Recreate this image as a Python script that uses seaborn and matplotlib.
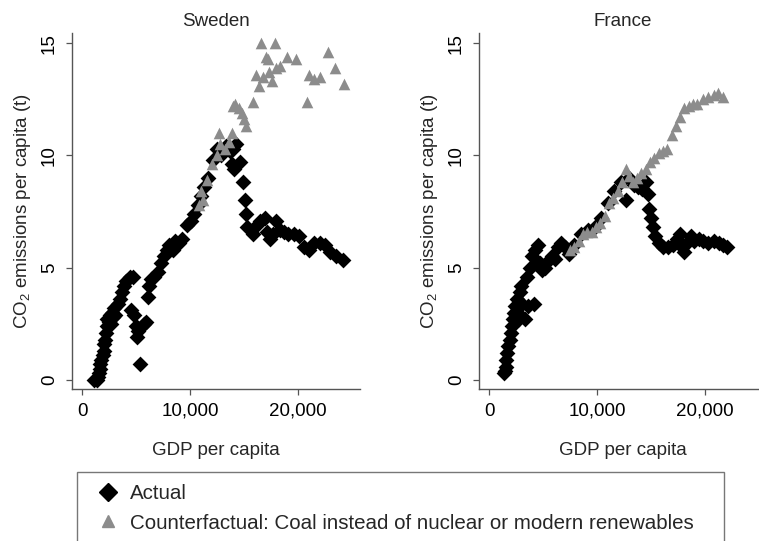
import pandas as pd
import numpy as np
import seaborn as sns
import matplotlib.pyplot as plt
from matplotlib.lines import Line2D

# Sweden, actual (GDP per capita, CO2 t per capita)
swe_act_gdp = [1100, 1250, 1350, 1450, 1550, 1650, 1700, 1800, 1900, 2000, 2050, 2150, 2200, 2300,
               2350, 2500, 2600, 2700, 2800, 2900, 3000, 3100, 3300, 3500, 3700, 3900, 4100, 4400,
               4700, 4500, 4800, 5000, 5200, 5400, 5100, 5700, 5900, 6100, 6200, 6400, 6700, 7000,
               7300, 7600, 7900, 8100, 8400, 8600, 9000, 9300, 9700, 10100, 10400, 10700, 11000,
               11300, 11700, 12100, 12500, 12900, 13300, 13700, 14000, 14300, 13900, 14100, 14600,
               14900, 15100, 15200, 15300, 15800, 16200, 16500, 16900, 17100, 17400, 17700, 18000,
               18300, 18700, 19100, 19600, 20100, 20600, 21000, 21500, 22000, 22500, 23000, 23500, 24200]
swe_act_co2 = [0.0, 0.05, 0.0, 0.15, 0.3, 0.5, 0.7, 0.9, 1.1, 1.3, 1.6, 1.8, 2.1, 2.4,
               2.7, 2.6, 2.9, 2.5, 3.0, 2.8, 3.2, 2.9, 3.4, 3.6, 3.9, 4.2, 4.4, 4.6,
               4.6, 3.1, 2.9, 2.4, 2.2, 0.7, 1.9, 2.5, 2.6, 3.7, 4.2, 4.5, 4.6, 4.8,
               5.2, 5.5, 5.8, 6.0, 5.8, 6.2, 6.1, 6.3, 6.9, 7.1, 7.4, 7.8, 8.2,
               8.6, 9.0, 9.8, 10.3, 10.0, 10.4, 10.2, 10.3, 10.5, 9.6, 9.4, 9.7,
               8.8, 8.0, 7.4, 6.8, 6.5, 6.9, 7.1, 7.2, 6.6, 6.3, 6.5, 7.1,
               6.7, 6.6, 6.5, 6.5, 6.4, 5.9, 5.8, 6.1, 6.1, 6.0, 5.7, 5.5, 5.35]

# Sweden, counterfactual
swe_cf_gdp = [10800, 11000, 11200, 11600, 12000, 12500, 12800, 12700, 13200, 13600, 13900, 14000,
              14200, 14500, 14800, 15000, 15200, 15800, 16100, 16400, 16600, 16800, 17000, 17200,
              17300, 17600, 17900, 18000, 18300, 19000, 19800, 20800, 21000, 21500, 22000, 22800,
              23400, 24300]
swe_cf_co2 = [7.8, 8.4, 8.0, 8.9, 9.6, 10.0, 10.5, 11.0, 10.3, 10.6, 11.0, 12.2,
              12.3, 12.1, 11.9, 11.6, 11.3, 12.4, 13.6, 13.1, 15.0, 13.5, 14.4, 14.3,
              13.7, 13.3, 15.0, 13.9, 14.0, 14.4, 14.3, 12.4, 13.6, 13.4, 13.5, 14.6,
              13.9, 13.2]

# France, actual
fra_act_gdp = [1350, 1450, 1550, 1600, 1700, 1800, 1900, 2000, 2100, 2200, 2300, 2450, 2600, 2700,
               2800, 2900, 3000, 3100, 3300, 3500, 3600, 3800, 4000, 4200, 4300, 4500, 4700, 4900,
               5200, 5500, 5800, 6100, 6400, 6700, 7000, 7400, 7900, 8500, 9200, 9800, 10400, 11000,
               11600, 12200, 12700, 13000, 13400, 13800, 14200, 14500, 14700, 14800, 15000, 15200,
               15400, 15700, 16100, 16600, 17000, 17400, 17700, 17900, 18100, 18300, 18700, 19000,
               19400, 19800, 20300, 20800, 21300, 21700, 22000]
fra_act_co2 = [0.3, 0.4, 0.6, 0.9, 1.2, 1.5, 1.8, 2.1, 2.4, 2.7, 3.0, 3.3, 3.6, 3.0,
               2.7, 3.9, 4.2, 3.4, 2.7, 4.6, 3.3, 5.0, 5.5, 3.4, 5.8, 6.0, 5.2, 4.9,
               5.0, 5.3, 5.5, 5.4, 5.9, 6.1, 5.9, 5.6, 6.0, 6.5, 6.7, 6.8, 7.2, 7.9,
               8.4, 8.8, 8.0, 9.0, 8.7, 8.6, 8.5, 8.8, 8.3, 7.6, 7.2, 6.8,
               6.4, 6.1, 5.9, 5.9, 6.0, 6.3, 6.5, 5.9, 5.7, 6.1, 6.4, 6.2,
               6.3, 6.2, 6.1, 6.2, 6.1, 6.0, 5.9]

# France, counterfactual
fra_cf_gdp = [7500, 7900, 8300, 8700, 9100, 9500, 9900, 10300, 10700, 11100, 11500, 11900, 12300,
              12700, 13000, 13300, 13700, 14100, 14500, 14900, 15300, 15700, 16100, 16500, 16900,
              17300, 17700, 18100, 18500, 18900, 19300, 19800, 20300, 20800, 21200, 21700]
fra_cf_co2 = [5.8, 5.9, 6.2, 6.5, 6.6, 6.6, 6.8, 7.0, 7.3, 7.9, 8.1, 8.4, 8.8,
              9.4, 9.1, 8.8, 9.0, 9.2, 9.4, 9.7, 9.9, 10.1, 10.2, 10.3, 10.9,
              11.3, 11.7, 12.1, 12.2, 12.3, 12.3, 12.5, 12.6, 12.7, 12.8, 12.6]

x_ticks = [0, 10000, 20000]
x_tick_labels = ["0", "10,000", "20,000"]
y_ticks = [0, 5, 10, 15]
labels = ["Actual", "Counterfactual: Coal instead of nuclear or modern renewables"]

sns.set_style("white")
plt.rcParams['font.family'] = ['Liberation Sans', 'DejaVu Sans']
plt.rcParams['mathtext.default'] = 'regular'

act_col = "black"
cf_col = "#8c8c8c"
spine_col = "#555555"
fs = 13.5

fig = plt.figure(figsize=(7.59, 5.41), dpi=100)

panels = [
    ("Sweden", 72, swe_act_gdp, swe_act_co2, swe_cf_gdp, swe_cf_co2),
    ("France", 479, fra_act_gdp, fra_act_co2, fra_cf_gdp, fra_cf_co2),
]

for title, left_px, ag, ac, cg, cc in panels:
    ax = fig.add_axes([left_px / 759, 152 / 541, 288 / 759, 356 / 541])
    act = pd.DataFrame({"gdp": ag, "co2": ac})
    cf = pd.DataFrame({"gdp": cg, "co2": cc})
    sns.scatterplot(data=act, x="gdp", y="co2", marker="D", s=65, color=act_col,
                    edgecolor=act_col, linewidth=0, ax=ax)
    sns.scatterplot(data=cf, x="gdp", y="co2", marker="^", s=70, color=cf_col,
                    edgecolor=cf_col, linewidth=0, ax=ax)
    ax.set_xlim(-926, 25740)
    ax.set_ylim(-0.4, 15.45)
    ax.set_xticks(x_ticks)
    ax.set_xticklabels(x_tick_labels)
    ax.set_yticks(y_ticks)
    ax.set_yticklabels([str(v) for v in y_ticks], rotation=90, va="center")
    ax.tick_params(axis="both", which="both", direction="out", length=4, width=0.9,
                   color=spine_col, labelsize=fs, labelcolor="black", left=True, bottom=True)
    ax.tick_params(axis="x", pad=6)
    ax.tick_params(axis="y", pad=6)
    for side in ["top", "right"]:
        ax.spines[side].set_visible(False)
    for side in ["left", "bottom"]:
        ax.spines[side].set_color(spine_col)
        ax.spines[side].set_linewidth(1.0)
    ax.set_title(title, fontsize=fs, pad=5)
    ax.set_xlabel("GDP per capita", fontsize=fs)
    ax.set_ylabel("CO$_2$ emissions per capita (t)", fontsize=fs)
    ax.xaxis.set_label_coords(0.5, -0.148)
    ax.yaxis.set_label_coords(-0.137, 0.5)

handles = [
    Line2D([], [], marker="D", color=act_col, linestyle="none", markersize=9),
    Line2D([], [], marker="^", color=cf_col, linestyle="none", markersize=8.5),
]
leg = fig.legend(handles, labels, loc="upper left",
                 bbox_to_anchor=(77 / 759, 0.0, 647 / 759, 1 - 472 / 541),
                 mode="expand", borderaxespad=0, fontsize=14.8, frameon=True,
                 fancybox=False, handletextpad=0.2, handlelength=1.8,
                 labelspacing=0.5, borderpad=0.6)
leg.get_frame().set_edgecolor(spine_col)
leg.get_frame().set_linewidth(1.0)

fig.savefig("out.png", dpi=100)
